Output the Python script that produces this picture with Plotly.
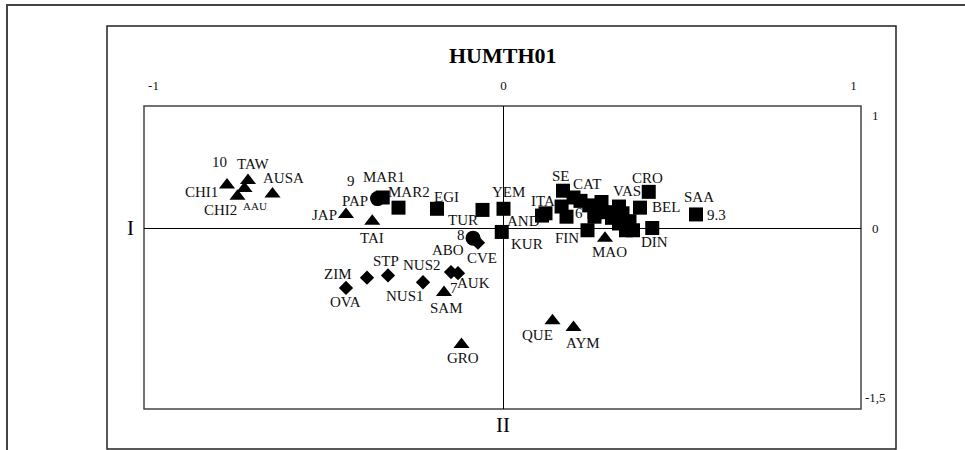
import plotly.graph_objects as go

# ---------------- data ----------------
labels = ["CHI1", "TAW", "AAU", "CHI2", "AUSA", "JAP", "TAI", "PAP", "MAR1", "MAR2",
          "EGI", "TUR", "YEM", "KUR", "ABO", "CVE", "ITA", "AND", "SE", "",
          "", "CAT", "", "", "", "", "", "VAS", "", "",
          "", "", "BEL", "CRO", "DIN", "FIN", "SAA", "MAO", "ZIM", "OVA",
          "STP", "NUS1", "NUS2", "AUK", "SAM", "GRO", "QUE", "AYM",
          "", "", ""]
x_vals = [-0.79, -0.73, -0.74, -0.76, -0.66, -0.45, -0.375, -0.36, -0.345, -0.30,
          -0.19, -0.06, 0.0, -0.005, -0.087, -0.073, 0.12, 0.11, 0.17, 0.166,
          0.18, 0.20, 0.22, 0.26, 0.26, 0.28, 0.29, 0.33, 0.34, 0.33,
          0.35, 0.37, 0.39, 0.415, 0.425, 0.24, 0.55, 0.29, -0.39, -0.45,
          -0.33, -0.23, -0.15, -0.13, -0.17, -0.12, 0.14, 0.20,
          0.245, 0.31, 0.36]
y_vals = [0.38, 0.42, 0.35, 0.28, 0.30, 0.12, 0.06, 0.26, 0.27, 0.18,
          0.17, 0.16, 0.17, -0.035, -0.09, -0.13, 0.13, 0.11, 0.33, 0.19,
          0.10, 0.27, 0.24, 0.14, 0.10, 0.23, 0.14, 0.19, 0.13, 0.04,
          -0.02, -0.02, 0.18, 0.32, 0.0, -0.02, 0.12, -0.09, -0.44, -0.53,
          -0.42, -0.48, -0.39, -0.40, -0.57, -1.03, -0.82, -0.88,
          0.20, 0.09, 0.06]
groups = ["tri", "tri", "tri", "tri", "tri", "tri", "tri", "circ", "sq", "sq",
          "sq", "sq", "sq", "sq", "circ", "dia", "sq", "sq", "sq", "sq",
          "sq", "sq", "sq", "sq", "sq", "sq", "sq", "sq", "sq", "sq",
          "sq", "sq", "sq", "sq", "sq", "sq", "sq", "tri", "dia", "dia",
          "dia", "dia", "dia", "dia", "tri", "tri", "tri", "tri",
          "sq", "sq", "sq"]

# numeric notes attached to points (label, index of point)
note_texts = ["10", "9", "8", "7", "6", "9.3"]
note_points = [0, 8, 14, 43, 20, 36]

x_ticks = [-1, 0, 1]
x_ticktext = ["-1", "0", "1"]
y_ticks = [1, 0, -1.5]
y_ticktext = ["1", "0", "-1,5"]
title = "HUMTH01"
axis1_name = "I"
axis2_name = "II"

# ---------------- styling (label offsets in px, screen-down dy) ----------------
label_offsets = {
    "CHI1": (-26, 7), "TAW": (5, -17), "AAU": (10, 18), "CHI2": (-17, 14), "AUSA": (11, -16),
    "JAP": (-22, 1), "TAI": (0, 17), "PAP": (-23, 2), "MAR1": (1, -20), "MAR2": (10, -16),
    "EGI": (9, -12), "TUR": (-20, 10), "YEM": (5, -17), "KUR": (25, 12), "ABO": (-25, 12),
    "CVE": (4, 15), "ITA": (-3, -12), "AND": (-19, 5), "SE": (-2, -15), "CAT": (13, -13),
    "VAS": (8, -16), "BEL": (26, -1), "CRO": (-1, -14), "DIN": (2, 14), "FIN": (-21, 8),
    "SAA": (3, -17), "MAO": (4, 14), "ZIM": (-29, -4), "OVA": (-1, 14), "STP": (-2, -14),
    "NUS1": (-18, 14), "NUS2": (-29, -7), "AUK": (15, 10), "SAM": (2, 16), "GRO": (1, 14),
    "QUE": (-15, 14), "AYM": (9, 16),
}
note_offsets = {"10": (-8, -23), "9": (-32, -16), "8": (-12, -3), "7": (-4, 15),
                "6": (12, -4), "9.3": (20, 1)}
small_labels = {"AAU"}

symbol_map = {"sq": ("square", 14), "tri": ("triangle-up", 14),
              "dia": ("diamond", 11), "circ": ("circle", 15)}

FONT = "Liberation Serif"
W, H = 965, 450
L, R, T, B = 144, 861, 106, 409


def px(xp):
    return (xp - L) / (R - L)


def py(yp):
    return (B - yp) / (B - T)


fig = go.Figure()
for g, (sym, size) in symbol_map.items():
    idx = [i for i, gg in enumerate(groups) if gg == g]
    fig.add_trace(go.Scatter(
        x=[x_vals[i] for i in idx], y=[y_vals[i] for i in idx],
        mode="markers",
        marker=dict(symbol=sym, size=size, color="black", line=dict(width=0)),
        hoverinfo="skip", showlegend=False,
    ))

annotations = []
for i, lab in enumerate(labels):
    if not lab:
        continue
    dx, dy = label_offsets.get(lab, (0, -14))
    annotations.append(dict(
        x=x_vals[i], y=y_vals[i], xref="x", yref="y", text=lab, showarrow=False,
        xshift=dx, yshift=-dy, xanchor="center", yanchor="middle",
        font=dict(family=FONT, size=11 if lab in small_labels else 15, color="#111"),
    ))
for t, pi in zip(note_texts, note_points):
    dx, dy = note_offsets[t]
    annotations.append(dict(
        x=x_vals[pi], y=y_vals[pi], xref="x", yref="y", text=t, showarrow=False,
        xshift=dx, yshift=-dy, xanchor="center", yanchor="middle",
        font=dict(family=FONT, size=15, color="#111"),
    ))

# y tick labels on the right (centred)
for v, t in zip(y_ticks, y_ticktext):
    annotations.append(dict(
        x=px(875), y=v, xref="paper", yref="y", text=t, showarrow=False,
        xanchor="center", yanchor="middle",
        font=dict(family=FONT, size=13, color="#111"),
    ))
# title and axis names
annotations.append(dict(x=px(503), y=py(55), xref="paper", yref="paper", text="<b>%s</b>" % title,
                        showarrow=False, xanchor="center", yanchor="middle",
                        font=dict(family=FONT, size=22, color="black")))
annotations.append(dict(x=px(130), y=py(228), xref="paper", yref="paper", text=axis1_name,
                        showarrow=False, xanchor="center", yanchor="middle",
                        font=dict(family=FONT, size=21, color="black")))
annotations.append(dict(x=px(503), y=py(425), xref="paper", yref="paper", text=axis2_name,
                        showarrow=False, xanchor="center", yanchor="middle",
                        font=dict(family=FONT, size=21, color="black")))

shapes = [
    # outer frame
    dict(type="rect", xref="paper", yref="paper", x0=px(7), x1=px(975), y0=py(5), y1=py(460),
         line=dict(color="#444", width=2), layer="below"),
    # inner frame
    dict(type="rect", xref="paper", yref="paper", x0=px(107), x1=px(896), y0=py(26), y1=py(449),
         line=dict(color="#222", width=1.5), layer="below"),
    # plot border
    dict(type="rect", xref="paper", yref="paper", x0=0, x1=1, y0=0, y1=1,
         line=dict(color="#444", width=1.5), layer="below"),
]

x0 = (L - 503.5) / 350
x1 = (R - 503.5) / 350
y1 = (228 - T) / 113
y0 = (228 - B) / 113

fig.update_layout(
    width=W, height=H,
    margin=dict(l=L, r=W - R, t=T, b=H - B, pad=0),
    paper_bgcolor="white", plot_bgcolor="white",
    annotations=annotations, shapes=shapes,
    xaxis=dict(range=[x0, x1], side="top", tickvals=x_ticks, ticktext=x_ticktext,
               showgrid=False, zeroline=True, zerolinecolor="black", zerolinewidth=1,
               ticks="", ticklabelstandoff=12, showline=False,
               tickfont=dict(family=FONT, size=13, color="#111")),
    yaxis=dict(range=[y0, y1], showticklabels=False, showgrid=False, zeroline=True,
               zerolinecolor="black", zerolinewidth=1, ticks="", showline=False),
    font=dict(family=FONT),
)

fig.write_html("out.html", config={"displayModeBar": False},
               post_script="document.body.style.margin='0';document.body.style.overflow='hidden';")
